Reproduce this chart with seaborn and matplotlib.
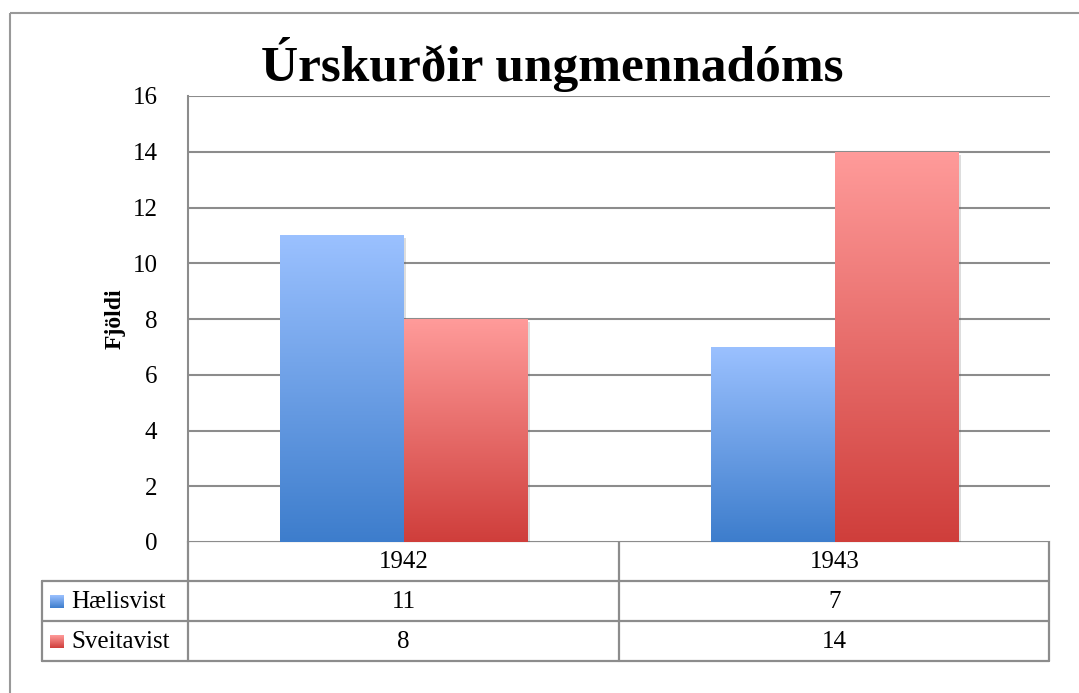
#!/usr/bin/env python3
"""Úrskurðir ungmennadóms: súlurit með gagnatöflu undir (Excel-stíll)."""
import numpy as np
import pandas as pd
import matplotlib
matplotlib.use('Agg')
import matplotlib.pyplot as plt
import matplotlib.patheffects as pe
from matplotlib.colors import LinearSegmentedColormap
from matplotlib.patches import Rectangle
import seaborn as sns

# Gögn
years = ['1942', '1943']
series = ['Hælisvist', 'Sveitavist']
haelisvist = [11, 7]
sveitavist = [8, 14]
y_ticks = [0, 2, 4, 6, 8, 10, 12, 14, 16]

# Litir (efst, neðst) fyrir hallann
colors = {
    'Hælisvist': ('#9bc1ff', '#3d7dcc'),
    'Sveitavist': ('#ff9b9a', '#cf3e3b'),
}
GRID = '#8c8c8c'
SERIF = ['Liberation Serif', 'DejaVu Serif']

df = pd.DataFrame({
    'ar': years * 2,
    'flokkur': [series[0]] * len(years) + [series[1]] * len(years),
    'fjoldi': haelisvist + sveitavist,
})

sns.set_style('white')
plt.rcParams['font.family'] = SERIF
plt.rcParams['text.color'] = 'black'
plt.rcParams['ytick.color'] = 'black'
plt.rcParams['axes.labelcolor'] = 'black'

W, H = 1079, 693
fig = plt.figure(figsize=(W / 100, H / 100), dpi=100)
ax = fig.add_axes([188 / W, 1 - 542 / H, (1050 - 188) / W, (542 - 96) / H])

palette = {k: v[1] for k, v in colors.items()}
sns.barplot(data=df, x='ar', y='fjoldi', hue='flokkur', hue_order=series,
            palette=palette, width=0.575, gap=0, ax=ax, legend=False,
            saturation=1, linewidth=0)

ax.set_xlim(-0.5, 1.5)
ax.set_ylim(0, 16)
ax.set_yticks(y_ticks)
ax.set_xticks([])
ax.set_xlabel('')
ax.set_ylabel('Fjöldi', fontsize=17, fontweight='bold', labelpad=5)
ax.tick_params(axis='y', length=0, pad=22, labelsize=18)
ax.yaxis.grid(True, color=GRID, lw=1.5)
ax.set_axisbelow(True)
for s in ['top', 'right', 'bottom']:
    ax.spines[s].set_visible(False)
ax.spines['left'].set_color(GRID)
ax.spines['left'].set_linewidth(1.5)


def gradient_cmap(name):
    top, bottom = colors[name]
    return LinearSegmentedColormap.from_list(name, [bottom, top])


grad = np.linspace(0, 1, 256).reshape(-1, 1)
# hver súla fær lóðréttan lithalla
bars = [p for p in ax.patches if p.get_height() > 0]
order = sorted(bars, key=lambda p: p.get_x())
names = [series[i % 2] for i in range(len(order))]
for p, name in zip(order, names):
    x0, y0 = p.get_x(), p.get_y()
    x1, y1 = x0 + p.get_width(), y0 + p.get_height()
    p.set_path_effects([pe.SimplePatchShadow(offset=(2, -2), alpha=0.2,
                                             shadow_rgbFace='#555555'),
                        pe.Normal()])
    im = ax.imshow(grad, extent=[x0, x1, y0, y1], origin='lower',
                   cmap=gradient_cmap(name), aspect='auto', zorder=3,
                   interpolation='bilinear')
    im.set_clip_path(p)
ax.set_xlim(-0.5, 1.5)
ax.set_ylim(0, 16)

# titill
fig.text(552 / W, 1 - 64 / H, 'Úrskurðir ungmennadóms', ha='center',
         va='center', fontsize=37, fontweight='bold', family=SERIF)

# yfirlag í pixlahnitum fyrir töflu og ramma
ov = fig.add_axes([0, 0, 1, 1], zorder=-1)
ov.set_xlim(0, W)
ov.set_ylim(H, 0)
ov.axis('off')
ov.patch.set_alpha(0)

lw = 1.6
ov.add_patch(Rectangle((10, 13), W + 20, H + 20, fill=False,
                       edgecolor='#999999', lw=1.5))

left, axis_x, right = 42, 188, 1049
rows = [541, 581, 621, 661]
col_x = [ax.transData.transform((i, 0))[0] for i in range(len(years))]
div_x = ax.transData.transform((0.5, 0))[0]

ov.plot([axis_x, right], [rows[0], rows[0]], color=GRID, lw=lw)
for y in rows[1:]:
    ov.plot([left, right], [y, y], color=GRID, lw=lw)
ov.plot([axis_x, axis_x], [rows[0], rows[-1]], color=GRID, lw=lw)
ov.plot([right, right], [rows[0], rows[-1]], color=GRID, lw=lw)
ov.plot([div_x, div_x], [rows[0], rows[-1]], color=GRID, lw=lw)
ov.plot([left, left], [rows[1], rows[-1]], color=GRID, lw=lw)

fs = 18
for x, yr in zip(col_x, years):
    ov.text(x, (rows[0] + rows[1]) / 2 + 1, yr, ha='center', va='center',
            fontsize=fs)
for r, (name, vals) in enumerate(zip(series, [haelisvist, sveitavist])):
    yc = (rows[r + 1] + rows[r + 2]) / 2 + 1
    for x, v in zip(col_x, vals):
        ov.text(x, yc, str(v), ha='center', va='center', fontsize=fs)
    ov.imshow(grad[::-1], extent=[50, 64, yc + 6, yc - 7],
              cmap=gradient_cmap(name), aspect='auto', zorder=3,
              interpolation='bilinear')
    ov.text(71, yc, name, ha='left', va='center', fontsize=fs)
ov.set_xlim(0, W)
ov.set_ylim(H, 0)

fig.savefig('out.png', dpi=100)
